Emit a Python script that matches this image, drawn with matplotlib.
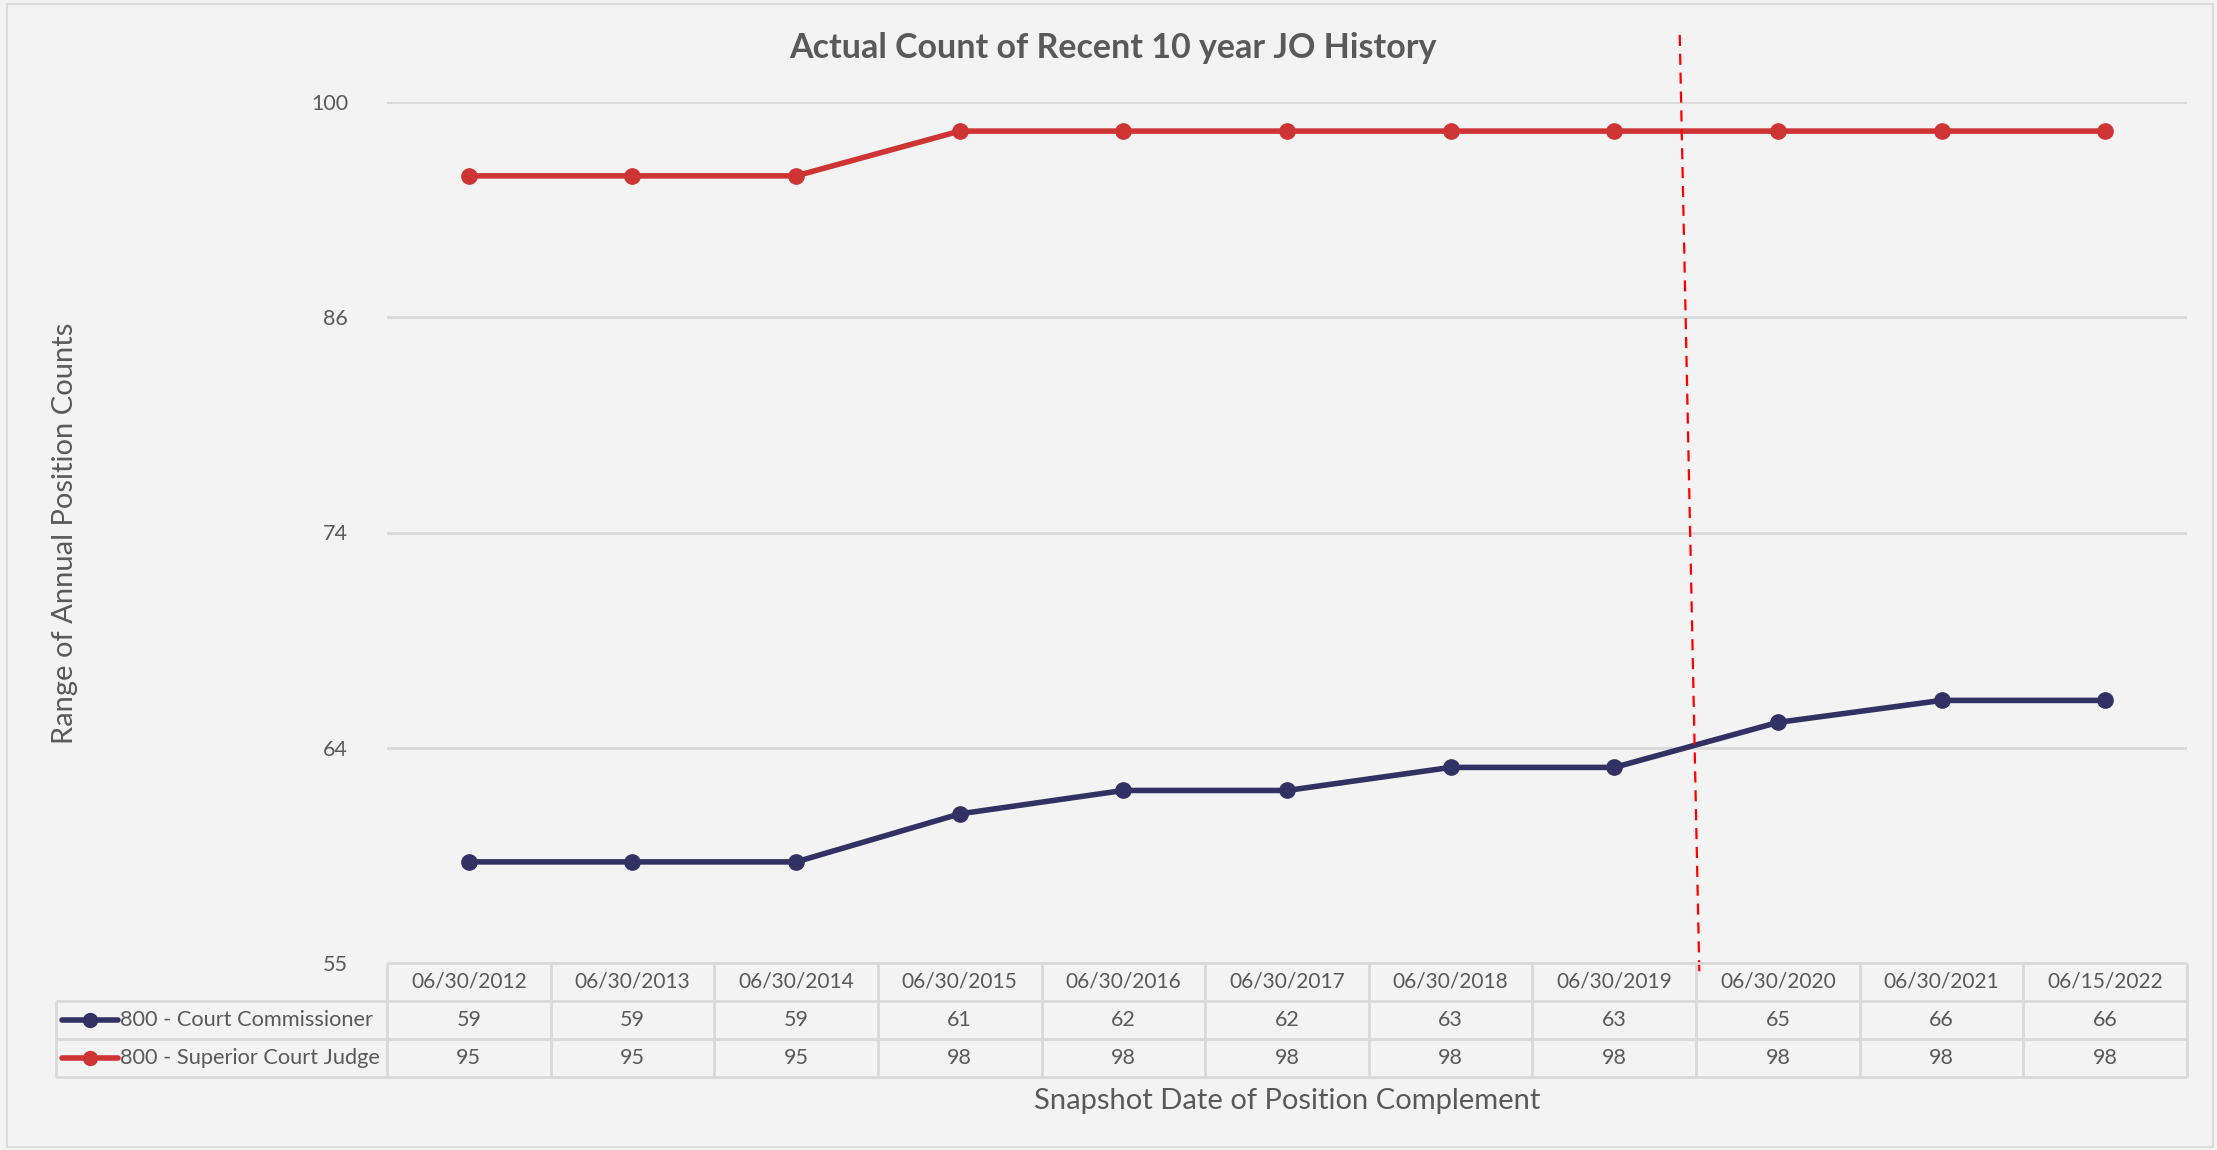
import numpy as np
import matplotlib
matplotlib.use("Agg")
import matplotlib.pyplot as plt
import matplotlib.transforms as mtransforms
from matplotlib.patches import Rectangle

plt.rcParams["font.family"] = ["Lato", "DejaVu Sans"]

# data
dates = ["06/30/2012", "06/30/2013", "06/30/2014", "06/30/2015", "06/30/2016",
         "06/30/2017", "06/30/2018", "06/30/2019", "06/30/2020", "06/30/2021",
         "06/15/2022"]
commissioner = [59, 59, 59, 61, 62, 62, 63, 63, 65, 66, 66]
judge = [95, 95, 95, 98, 98, 98, 98, 98, 98, 98, 98]
series_names = ["800 - Court Commissioner", "800 - Superior Court Judge"]
ytick_labels = ["55", "64", "74", "86", "100"]
ymin, ymax = 55, 100

navy = "#313163"
red = "#CF3434"
txt = "#595959"
grid = "#D9D9D9"
bg = "#F3F3F3"

W, H = 2217, 1150
fig = plt.figure(figsize=(W / 100, H / 100), dpi=100, facecolor=bg)

# frame around the chart
fig.patches.append(Rectangle((7 / W, 1 - 1147 / H), 2206 / W, 1143 / H,
                             transform=fig.transFigure, fill=False,
                             edgecolor="#DCDCDC", lw=1.5))

left, right = 387, 2187
top, bottom = 102, 963
ax = fig.add_axes([left / W, 1 - bottom / H, (right - left) / W, (bottom - top) / H])
ax.set_facecolor(bg)

x = np.arange(len(dates))
ax.set_yscale("log")
ax.set_ylim(ymin, ymax)
ax.set_xlim(-0.5, len(dates) - 0.5)
yt = ymin * (ymax / ymin) ** (np.arange(len(ytick_labels)) / (len(ytick_labels) - 1))
ax.set_yticks(yt)
ax.set_yticklabels(ytick_labels)
ax.yaxis.set_minor_locator(matplotlib.ticker.NullLocator())
ax.tick_params(axis="y", length=0, pad=28, labelsize=15.5, labelcolor=txt)
ax.set_xticks([])
for s in ax.spines.values():
    s.set_visible(False)
ax.grid(axis="y", color=grid, lw=2)
ax.set_axisbelow(True)

ax.plot(x, commissioner, color=navy, lw=4, marker="o", ms=11, zorder=3)
ax.plot(x, judge, color=red, lw=4, marker="o", ms=11, zorder=3)

# divider between 2019 and 2020
trans = mtransforms.blended_transform_factory(ax.transData, ax.transAxes)
ax.plot([7.40, 7.52], [1.078, -0.012], transform=trans, color="#FF0000",
        lw=1.6, ls=(0, (5, 3.5)), clip_on=False, zorder=4)

fig.text(1113 / W, 1 - 48 / H, "Actual Count of Recent 10 year JO History",
         fontsize=24.5, fontweight="bold", color=txt, ha="center", va="center")

# data table under the axes
tleft, tbottom = 56, 1077
colw = (right - left) / len(dates)
lab_w = (left - tleft) / colw
tab = fig.add_axes([tleft / W, 1 - tbottom / H, (right - tleft) / W, (tbottom - bottom) / H])
tab.set_xlim(-0.5 - lab_w, len(dates) - 0.5)
tab.set_ylim(3, 0)
tab.axis("off")
lk = dict(color=grid, lw=2, solid_capstyle="butt", clip_on=False)
tab.plot([-0.5, len(dates) - 0.5], [0, 0], **lk)
for r in (1, 2, 3):
    tab.plot([-0.5 - lab_w, len(dates) - 0.5], [r, r], **lk)
tab.plot([-0.5 - lab_w, -0.5 - lab_w], [1, 3], **lk)
for c in range(len(dates) + 1):
    tab.plot([c - 0.5, c - 0.5], [0, 3], **lk)

for i, d in enumerate(dates):
    tab.text(i, 0.5, d, ha="center", va="center", fontsize=15, color=txt)
    tab.text(i, 1.5, str(commissioner[i]), ha="center", va="center", fontsize=15.5, color=txt)
    tab.text(i, 2.5, str(judge[i]), ha="center", va="center", fontsize=15.5, color=txt)

key_x0 = -0.5 - lab_w + 6 / colw
key_x1 = key_x0 + 56 / colw
for r, (name, col) in enumerate(zip(series_names, [navy, red])):
    tab.plot([key_x0, key_x1], [r + 1.5, r + 1.5], color=col, lw=4,
             solid_capstyle="round", clip_on=False)
    tab.plot([(key_x0 + key_x1) / 2], [r + 1.5], "o", color=col, ms=10, clip_on=False)
    tab.text(key_x1 + 2 / colw, r + 1.5, name, ha="left", va="center",
             fontsize=15.7, color=txt)

fig.text(65 / W, 1 - 533 / H, "Range of Annual Position Counts", rotation=90,
         ha="center", va="center", fontsize=21, color=txt)
fig.text(1287 / W, 1 - 1101 / H, "Snapshot Date of Position Complement",
         ha="center", va="center", fontsize=21, color=txt)

fig.savefig("out.png", dpi=100, facecolor=bg)
